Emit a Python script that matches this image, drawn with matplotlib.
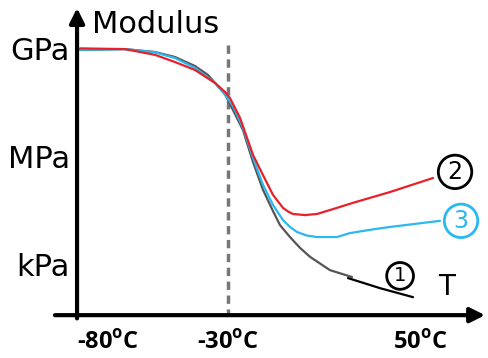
import numpy as np
import matplotlib
matplotlib.use("Agg")
import matplotlib.pyplot as plt

# =========================================================
# DATA - temperature (C) and log10 of modulus (Pa)
temp_1 = [-91.67, -72.92, -60.42, -52.08, -43.75, -38.33, -31.25, -23.75, -19.58, -15.42,
          -11.25, -8.33, -4.17, 0.0, 4.17, 12.5, 21.67]
logE_1 = [9.06, 9.08, 9.0, 8.86, 8.61, 8.36, 7.83, 6.83, 5.94, 5.17,
          4.58, 4.19, 3.86, 3.56, 3.31, 2.94, 2.75]
# hand drawn black tail of curve 1
temp_1_tail = [20.0, 33.33, 47.08]
logE_1_tail = [2.72, 2.44, 2.19]

temp_2 = [-91.67, -72.92, -60.42, -52.08, -43.75, -35.42, -31.25, -29.17, -25.0, -19.58,
          -15.42, -11.25, -7.08, -5.0, -2.92, 2.08, 7.08, 12.5, 22.08, 37.5, 55.42]
logE_2 = [9.10, 9.08, 8.92, 8.72, 8.50, 8.14, 7.89, 7.72, 7.17, 6.14,
          5.58, 5.03, 4.67, 4.57, 4.50, 4.47, 4.50, 4.61, 4.81, 5.11, 5.50]

temp_3 = [-91.67, -72.92, -60.42, -52.08, -43.75, -35.42, -31.25, -27.92, -23.75, -19.58,
          -15.42, -11.25, -7.08, -4.17, -1.25, 2.92, 7.08, 15.42, 20.83, 29.17, 37.5, 58.33]
logE_3 = [9.06, 9.08, 8.99, 8.83, 8.56, 8.14, 7.81, 7.50, 6.89, 6.06,
          5.31, 4.75, 4.33, 4.14, 4.0, 3.90, 3.86, 3.86, 3.97, 4.06, 4.14, 4.31]

y_ticks = [9, 6, 3]
y_labels = ["GPa", "MPa", "kPa"]
x_ticks = [-80, -30, 50]
x_labels = [r"-80$^{\mathbf{o}}$C", r"-30$^{\mathbf{o}}$C", r"50$^{\mathbf{o}}$C"]
t_glass = -30

plt.rcParams["mathtext.fontset"] = "custom"
plt.rcParams["mathtext.bf"] = "Open Sans:bold"

fig = plt.figure(figsize=(4.88, 3.58), dpi=100)
ax = fig.add_axes([0, 0, 1, 1])
ax.set_xlim(-125, 78.33)
ax.set_ylim(0.5, 10.444)
ax.axis("off")

# axes drawn as arrows
x0, y0 = -92.9, 1.69
ax.annotate("", xy=(77.1, y0), xytext=(-102.1, y0),
            arrowprops=dict(arrowstyle="-|>", lw=3, color="black", mutation_scale=22, shrinkA=0, shrinkB=0))
ax.annotate("", xy=(x0, 10.22), xytext=(x0, 1.6),
            arrowprops=dict(arrowstyle="-|>", lw=3, color="black", mutation_scale=22, shrinkA=0, shrinkB=0))

# glass transition marker
ax.plot([t_glass, t_glass], [9.19, 1.69], color="#777777", lw=2.5, ls=(0, (2.4, 1.6)))

# curves
line_kw = dict(lw=1.6, solid_joinstyle="round", solid_capstyle="round")
ax.plot(temp_1, logE_1, color="#555555", **line_kw)
ax.plot(temp_1_tail, logE_1_tail, color="black", **line_kw)
ax.plot(temp_3, logE_3, color="#2bb8ef", **line_kw)
ax.plot(temp_2, logE_2, color="#e8202a", **line_kw)

# labels
for yv, lab in zip(y_ticks, y_labels):
    ax.text(-95.8, yv, lab, ha="right", va="center", fontsize=22, family="DejaVu Sans")
for xv, lab in zip(x_ticks, x_labels):
    ax.text(xv, 0.92, lab, ha="center", va="center", fontsize=17, family="Open Sans", weight="bold")

ax.text(-86.7, 9.75, "Modulus", ha="left", va="center", fontsize=22, family="DejaVu Sans")
ax.text(61.25, 2.47, "T", ha="center", va="center", fontsize=20, family="DejaVu Sans")

circ = dict(boxstyle="circle,pad=0.2", fc="white", lw=2)
ax.text(41.7, 2.78, "1", ha="center", va="center", fontsize=14, family="DejaVu Sans",
        bbox=dict(circ, ec="black"))
ax.text(64.6, 5.67, "2", ha="center", va="center", fontsize=17, family="DejaVu Sans",
        bbox=dict(circ, ec="black"))
ax.text(67.1, 4.31, "3", ha="center", va="center", fontsize=17, family="DejaVu Sans", color="#2bb8ef",
        bbox=dict(circ, ec="#2bb8ef"))

fig.savefig("out.png", dpi=100)
